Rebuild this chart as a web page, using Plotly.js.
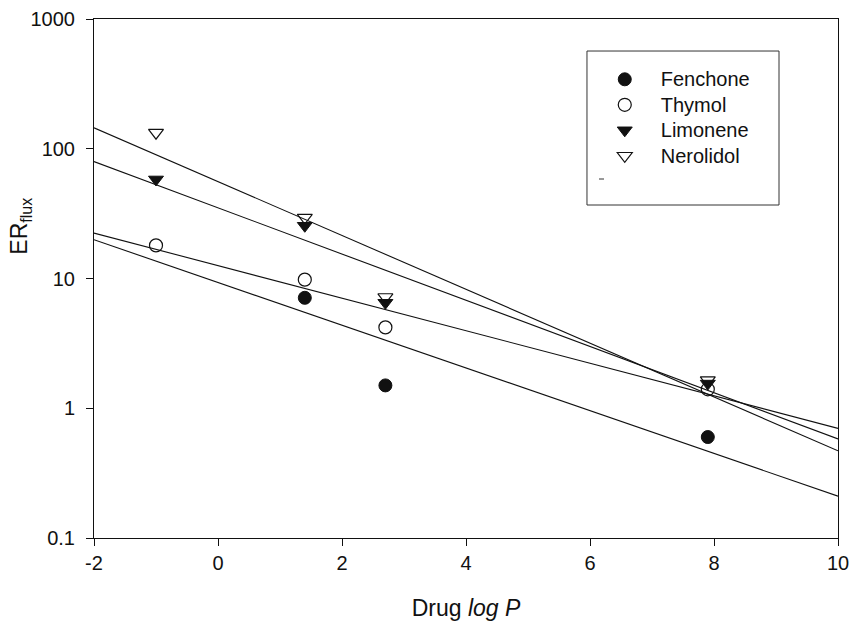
<!DOCTYPE html>
<html>
<head>
<meta charset="utf-8">
<script src="https://cdn.plot.ly/plotly-3.0.1.min.js"></script>
<style>html,body{margin:0;padding:0;background:#fff;}#chart{width:851px;height:621px;}</style>
</head>
<body>
<div id="chart"></div>
<script>
// Data
var logP = [-1, 1.4, 2.7, 7.9];
var fenchoneX = [1.4, 2.7, 7.9];
var fenchoneY = [7.1, 1.5, 0.6];
var thymolY = [18, 9.8, 4.2, 1.4];
var limoneneY = [58, 25.5, 6.5, 1.55];
var nerolidolY = [133, 29.5, 7.2, 1.65];

// Regression lines (end values at x = -2 and x = 10)
var fitX = [-2, 10];
var fitFenchone = [19.9, 0.21];
var fitThymol = [22.4, 0.70];
var fitLimonene = [79.6, 0.58];
var fitNerolidol = [145, 0.47];

var xTicks = [-2, 0, 2, 4, 6, 8, 10];
var xTickText = ['-2', '0', '2', '4', '6', '8', '10'];
var yTicks = [0.1, 1, 10, 100, 1000];
var yTickText = ['0.1', '1', '10', '100', '1000'];

var ink = '#111';
var FONT = 'Liberation Sans, Arial, sans-serif';

function fit(y) {
  return {x: fitX, y: y, mode: 'lines', line: {color: ink, width: 1.1}, showlegend: false, hoverinfo: 'skip'};
}
function lg(name) { return '<span style="font-size:20px">' + name + '</span>'; }

var traces = [
  fit(fitNerolidol), fit(fitLimonene), fit(fitThymol), fit(fitFenchone),
  {x: fenchoneX, y: fenchoneY, name: lg('Fenchone'), mode: 'markers',
   marker: {symbol: 'circle', size: 13, color: ink, line: {color: ink, width: 1}}},
  {x: logP, y: thymolY, name: lg('Thymol'), mode: 'markers',
   marker: {symbol: 'circle-open', size: 13, color: ink, line: {color: ink, width: 1.2}}},
  {x: logP, y: limoneneY, name: lg('Limonene'), mode: 'markers',
   marker: {symbol: 'triangle-down', size: 13, color: ink, line: {color: ink, width: 1}}},
  {x: logP, y: nerolidolY, name: lg('Nerolidol'), mode: 'markers',
   marker: {symbol: 'triangle-down-open', size: 13, color: ink, line: {color: ink, width: 1.2}}}
];

var layout = {
  width: 851, height: 621,
  margin: {l: 94, r: 13, t: 19, b: 83, pad: 0},
  paper_bgcolor: '#fff', plot_bgcolor: '#fff',
  font: {family: FONT, size: 19, color: ink},
  showlegend: true,
  legend: {x: 0.665, xanchor: 'left', y: 0.918, yanchor: 'top',
           bgcolor: 'rgba(0,0,0,0)', borderwidth: 0, itemwidth: 62,
           font: {family: FONT, size: 17.3, color: ink}, tracegroupgap: 0},
  xaxis: {range: [-2, 10], tickvals: xTicks, ticktext: xTickText, ticks: 'outside', ticklen: 7, tickwidth: 1,
          tickcolor: ink, showline: true, linecolor: ink, linewidth: 1, mirror: true,
          showgrid: false, zeroline: false, tickfont: {size: 20},
          title: {text: 'Drug <i>log P</i>', font: {size: 23}, standoff: 31}},
  yaxis: {type: 'log', range: [-1, 3], tickvals: yTicks, ticktext: yTickText,
          ticks: 'outside', ticklen: 7, tickwidth: 1, tickcolor: ink,
          showline: true, linecolor: ink, linewidth: 1, mirror: true,
          showgrid: false, zeroline: false, tickfont: {size: 20}, ticklabelstandoff: 7},
  annotations: [
    {text: 'ER<sub>flux</sub>', xref: 'paper', yref: 'paper', x: -0.098, y: 0.60,
     xanchor: 'center', yanchor: 'middle', textangle: -90, showarrow: false,
     font: {family: FONT, size: 23, color: ink}}
  ],
  shapes: [
    {type: 'rect', xref: 'paper', yref: 'paper', x0: 0.6626, x1: 0.9207, y0: 0.6416, y1: 0.9383,
     line: {color: '#333', width: 1}},
    {type: 'line', xref: 'paper', yref: 'paper', x0: 0.6788, x1: 0.6855, y0: 0.6917, y1: 0.6917,
     line: {color: '#333', width: 1}}
  ]
};

Plotly.newPlot('chart', traces, layout, {displayModeBar: false, staticPlot: true});
</script>
</body>
</html>
